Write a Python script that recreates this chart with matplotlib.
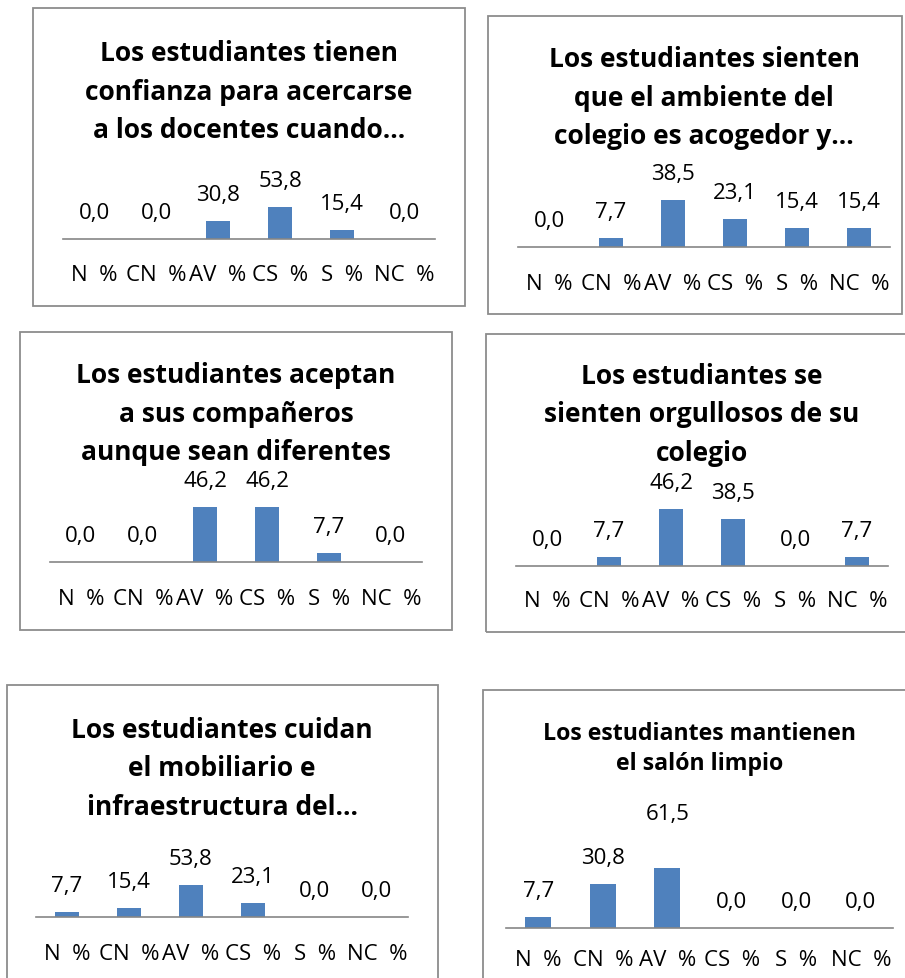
import matplotlib.pyplot as plt
from matplotlib.patches import Rectangle

plt.rcParams['font.family'] = ['Open Sans', 'DejaVu Sans']

categories = ['N  %', 'CN  %', 'AV  %', 'CS  %', 'S  %', 'NC  %']

titles = [
    'Los estudiantes tienen\nconfianza para acercarse\na los docentes cuando…',
    'Los estudiantes sienten\nque el ambiente del\ncolegio es acogedor y…',
    'Los estudiantes aceptan\na sus compañeros\naunque sean diferentes',
    'Los estudiantes se\nsienten orgullosos de su\ncolegio',
    'Los estudiantes cuidan\nel mobiliario e\ninfraestructura del…',
    'Los estudiantes mantienen\nel salón limpio',
]

confianza = [0.0, 0.0, 30.8, 53.8, 15.4, 0.0]
ambiente = [0.0, 7.7, 38.5, 23.1, 15.4, 15.4]
aceptan = [0.0, 0.0, 46.2, 46.2, 7.7, 0.0]
orgullosos = [0.0, 7.7, 46.2, 38.5, 0.0, 7.7]
mobiliario = [7.7, 15.4, 53.8, 23.1, 0.0, 0.0]
limpio = [7.7, 30.8, 61.5, 0.0, 0.0, 0.0]
series = [confianza, ambiente, aceptan, orgullosos, mobiliario, limpio]

# layout in pixels (figure is 905 x 979)
W, H = 905, 979
# box: left, top, right, bottom
boxes = [(33, 9, 465, 307), (488, 17, 902, 315),
         (20, 333, 452, 631), (486, 335, 910, 633),
         (7, 686, 438, 990), (483, 691, 910, 990)]
# axis: left, right, baseline y, px per unit
axes_px = [(63, 435, 240, 0.60), (518, 890, 248, 1.22),
           (50, 422, 563, 1.19), (516, 888, 567, 1.23),
           (36, 408, 918, 0.60), (506, 893, 929, 1.44)]
title_y = [92, 98, 414, 415, 769, 749]
title_size = [19, 19, 19, 19, 19, 16.7]
title_ls = [1.55, 1.55, 1.55, 1.55, 1.55, 1.35]
tick_pad = [18, 19, 19, 17, 19, 15]

bar_color = '#4F81BD'
axis_color = '#868686'

fig = plt.figure(figsize=(W / 100, H / 100), dpi=100)

for i, vals in enumerate(series):
    bl, bt, br, bb = boxes[i]
    fig.add_artist(Rectangle((bl / W, 1 - bb / H), (br - bl) / W, (bb - bt) / H,
                             transform=fig.transFigure, fill=False,
                             edgecolor='#8c8c8c', linewidth=1.3))

    x0, x1, base, scale = axes_px[i]
    h = 60
    ax = fig.add_axes([x0 / W, 1 - base / H, (x1 - x0) / W, h / H])
    ax.set_facecolor('none')
    xs = range(len(categories))
    ax.bar(xs, vals, width=0.4, color=bar_color)
    ax.set_xlim(-0.5, len(categories) - 0.5)
    ax.set_ylim(0, h / scale)
    for s in ['top', 'left', 'right']:
        ax.spines[s].set_visible(False)
    ax.spines['bottom'].set_color(axis_color)
    ax.spines['bottom'].set_linewidth(1.2)
    ax.set_yticks([])
    ax.set_xticks(list(xs))
    ax.set_xticklabels(categories, fontsize=16)
    ax.tick_params(axis='x', length=0, pad=tick_pad[i])

    for x, v in zip(xs, vals):
        ax.annotate(f'{v:.1f}'.replace('.', ','), (x, v), xytext=(0, 19),
                    textcoords='offset points', ha='center', va='center',
                    fontsize=16, annotation_clip=False)

    cx = (x0 + x1) / 2
    fig.text(cx / W, 1 - title_y[i] / H, titles[i], ha='center', va='center',
             multialignment='center', fontsize=title_size[i], fontweight='bold',
             linespacing=title_ls[i])

fig.savefig('out.png', dpi=100)
